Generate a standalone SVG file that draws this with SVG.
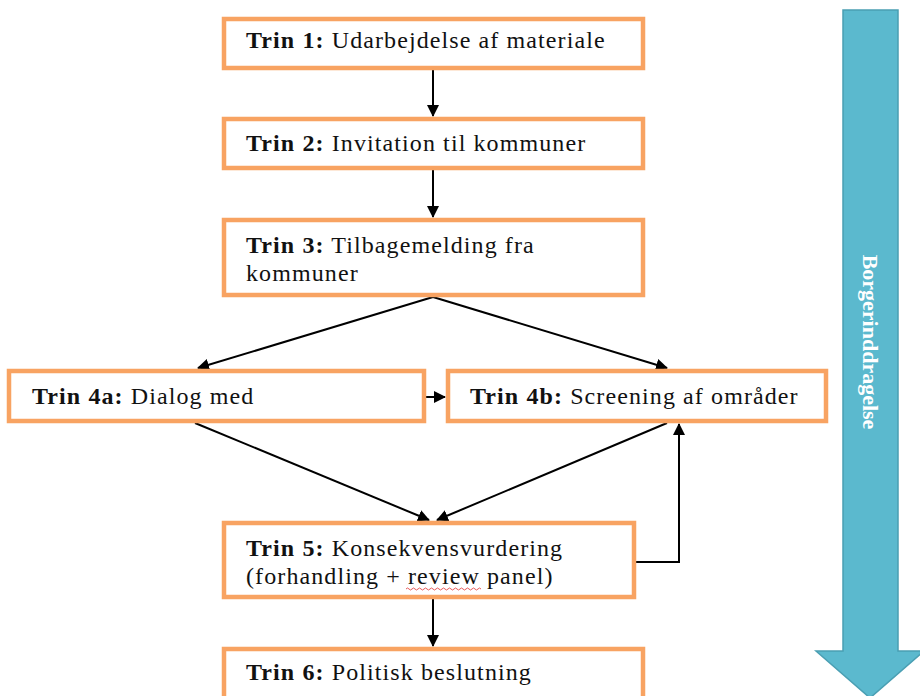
<svg xmlns="http://www.w3.org/2000/svg" width="920" height="696" viewBox="0 0 920 696">
<defs>
<marker id="ah" markerWidth="12" markerHeight="12" refX="11" refY="6" orient="auto" markerUnits="userSpaceOnUse">
<path d="M0,0 L12,6 L0,12 Z" fill="#000"/>
</marker>
</defs>
<style>
.box{fill:#fff;stroke:#F8A362;stroke-width:4.5}
.t{font-family:"Liberation Serif","Times New Roman",serif;font-size:24px;letter-spacing:1.1px;fill:#111}
.b{font-weight:bold}
.c{fill:none;stroke:#000;stroke-width:2}
</style>
<rect width="920" height="696" fill="#fff"/>
<g id="borgerinddragelse">
<path d="M843,10 H898 V651 H924 L870,698 L816,651 H843 Z" fill="#5BB9CE" stroke="#4A9FB3" stroke-width="1.5"/>
<text x="0" y="0" transform="translate(863,342) rotate(90)" text-anchor="middle" font-family="Liberation Serif, serif" font-size="22" font-weight="bold" fill="#fff">Borgerinddragelse</text>
</g>
<g id="connectors">
<line class="c" x1="433" y1="70" x2="433" y2="116" marker-end="url(#ah)"/>
<line class="c" x1="433" y1="170" x2="433" y2="217" marker-end="url(#ah)"/>
<line class="c" x1="433" y1="297" x2="198" y2="368" marker-end="url(#ah)"/>
<line class="c" x1="433" y1="297" x2="667" y2="368" marker-end="url(#ah)"/>
<line class="c" x1="426" y1="397" x2="445" y2="397" marker-end="url(#ah)"/>
<line class="c" x1="195" y1="423" x2="429" y2="520" marker-end="url(#ah)"/>
<line class="c" x1="667" y1="423" x2="437" y2="520" marker-end="url(#ah)"/>
<polyline class="c" points="636,562 679,562 679,424" marker-end="url(#ah)"/>
<line class="c" x1="433" y1="599" x2="433" y2="646" marker-end="url(#ah)"/>
</g>
<g id="trin1">
<rect class="box" x="224" y="19" width="419" height="49"/>
<text class="t" x="246" y="48"><tspan class="b">Trin 1:</tspan> Udarbejdelse af materiale</text>
</g>
<g id="trin2">
<rect class="box" x="224" y="119" width="419" height="49"/>
<text class="t" x="246" y="151"><tspan class="b">Trin 2:</tspan> Invitation til kommuner</text>
</g>
<g id="trin3">
<rect class="box" x="224" y="220" width="419" height="75"/>
<text class="t" x="246" y="253"><tspan class="b">Trin 3:</tspan> Tilbagemelding fra</text>
<text class="t" x="246" y="281">kommuner</text>
</g>
<g id="trin4a">
<rect class="box" x="9" y="371" width="415" height="50"/>
<text class="t" x="32" y="404"><tspan class="b">Trin 4a:</tspan> Dialog med</text>
</g>
<g id="trin4b">
<rect class="box" x="448" y="371" width="378" height="50"/>
<text class="t" x="470" y="404"><tspan class="b">Trin 4b:</tspan> Screening af områder</text>
</g>
<g id="trin5">
<rect class="box" x="224" y="523" width="410" height="74"/>
<text class="t" x="246" y="556"><tspan class="b">Trin 5:</tspan> Konsekvensvurdering</text>
<text class="t" x="246" y="584">(forhandling + review panel)</text>
<path d="M406,589 q1.5,-2 3,0 t3,0 t3,0 t3,0 t3,0 t3,0 t3,0 t3,0 t3,0 t3,0 t3,0 t3,0 t3,0 t3,0 t3,0 t3,0 t3,0 t3,0 t3,0 t3,0 t3,0 t3,0 t3,0 t3,0 t3,0" fill="none" stroke="#E03030" stroke-width="0.8"/>
</g>
<g id="trin6">
<rect class="box" x="224" y="649" width="419" height="60"/>
<text class="t" x="246" y="680"><tspan class="b">Trin 6:</tspan> Politisk beslutning</text>
</g>
</svg>
